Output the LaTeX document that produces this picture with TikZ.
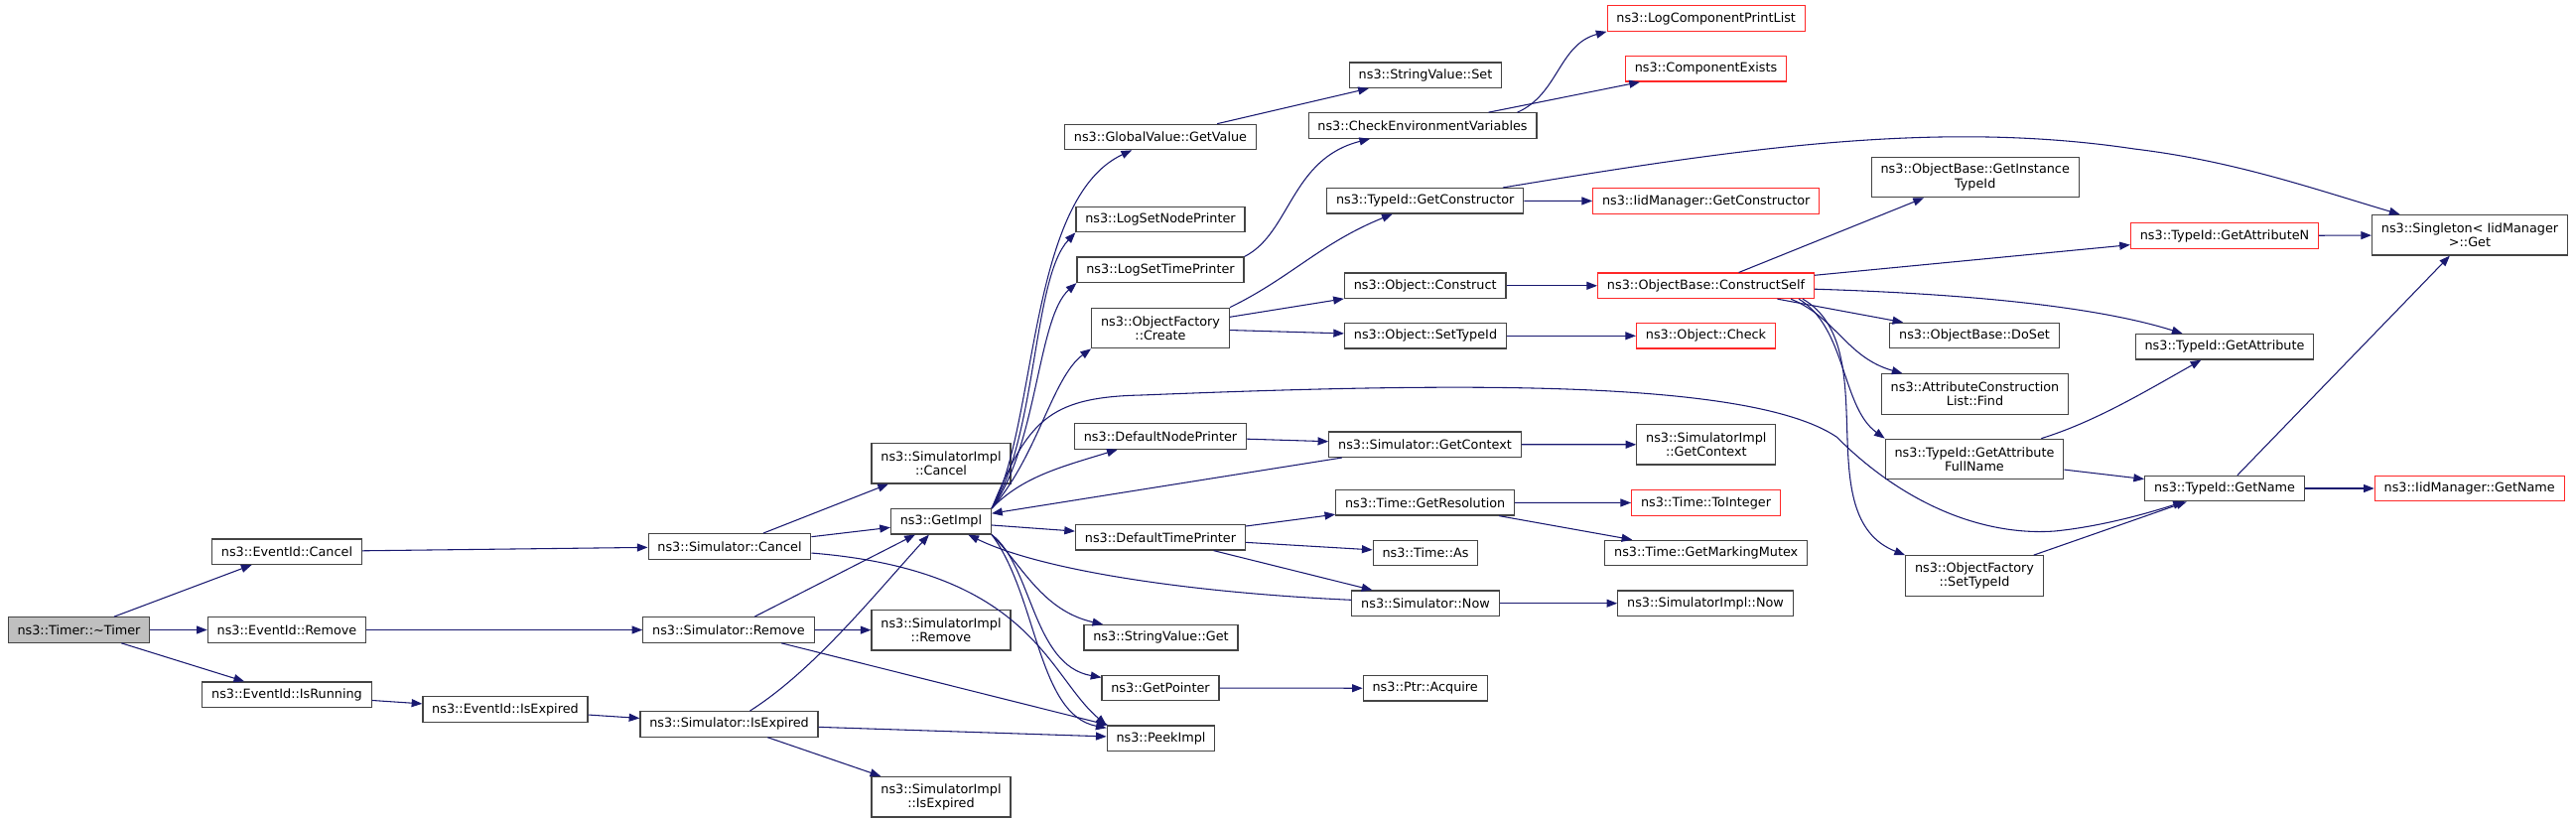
\documentclass[tikz,border=0pt]{standalone}
\usepackage{fontspec}
\setmainfont{DejaVu Sans}
\usetikzlibrary{arrows.meta}
\definecolor{edgeColor}{RGB}{25,25,112}
\definecolor{boxColor}{RGB}{68,68,68}
\definecolor{redColor}{RGB}{255,40,40}
\definecolor{rootColor}{RGB}{191,191,191}

\begin{document}
\begin{tikzpicture}[x=0.75pt, y=-0.75pt, >={Triangle[length=8pt,width=6pt]},
    fn/.style={draw=boxColor, fill=white, line width=0.9pt, minimum height=19.1pt, inner xsep=7pt, inner ysep=1pt, font=\fontsize{9.6}{10.7}\selectfont},
    fntwo/.style={fn, minimum height=30.4pt, align=center},
    fnred/.style={fn, draw=redColor},
    call/.style={->, edgeColor, line width=0.8pt}]
    \useasboundingbox (0,0) rectangle (2595,828);

    % caller side
    \node[fn, fill=rootColor] (timer) at (79.5,634.5) {ns3::Timer::\textasciitilde Timer};
    \node[fn] (evcancel) at (289,555.7) {ns3::EventId::Cancel};
    \node[fn] (evremove) at (289,634.5) {ns3::EventId::Remove};
    \node[fn] (evrunning) at (289,699.7) {ns3::EventId::IsRunning};
    \node[fn] (evexpired) at (509,714.5) {ns3::EventId::IsExpired};
    \node[fn] (simcancel) at (735,550.4) {ns3::Simulator::Cancel};
    \node[fn] (simremove) at (734,634.5) {ns3::Simulator::Remove};
    \node[fn] (simexpired) at (734.5,729.4) {ns3::Simulator::IsExpired};
    \node[fn] (getimpl) at (948,525.3) {ns3::GetImpl};
    \node[fntwo] (implcancel) at (948,466.7) {ns3::SimulatorImpl\\::Cancel};
    \node[fntwo] (implremove) at (948,634.7) {ns3::SimulatorImpl\\::Remove};
    \node[fntwo] (implexpired) at (948,802.7) {ns3::SimulatorImpl\\::IsExpired};

    % called from GetImpl
    \node[fn] (globalget) at (1169,138) {ns3::GlobalValue::GetValue};
    \node[fn] (lognode) at (1169,221) {ns3::LogSetNodePrinter};
    \node[fn] (logtime) at (1169,271.8) {ns3::LogSetTimePrinter};
    \node[fntwo] (factcreate) at (1169,330.5) {ns3::ObjectFactory\\::Create};
    \node[fn] (nodeprinter) at (1169,439.5) {ns3::DefaultNodePrinter};
    \node[fn] (timeprinter) at (1169,541.3) {ns3::DefaultTimePrinter};
    \node[fn] (strget) at (1169.5,642.3) {ns3::StringValue::Get};
    \node[fn] (getptr) at (1169,693) {ns3::GetPointer};
    \node[fn] (peekimpl) at (1169.5,743.7) {ns3::PeekImpl};

    \node[fn] (strset) at (1436,75.7) {ns3::StringValue::Set};
    \node[fn] (checkenv) at (1433,126.5) {ns3::CheckEnvironmentVariables};
    \node[fn] (getctor) at (1435.7,202.3) {ns3::TypeId::GetConstructor};
    \node[fn] (construct) at (1435.7,287.8) {ns3::Object::Construct};
    \node[fn] (settypeid) at (1436,338.3) {ns3::Object::SetTypeId};
    \node[fn] (getcontext) at (1435.5,447.7) {ns3::Simulator::GetContext};
    \node[fn] (getres) at (1435.7,506.3) {ns3::Time::GetResolution};
    \node[fn] (timeas) at (1436,557) {ns3::Time::As};
    \node[fn] (simnow) at (1436,607.7) {ns3::Simulator::Now};
    \node[fn] (acquire) at (1435.7,693.3) {ns3::Ptr::Acquire};

    \node[fnred] (printlist) at (1718.7,18.5) {ns3::LogComponentPrintList};
    \node[fnred] (compexists) at (1718.5,69.3) {ns3::ComponentExists};
    \node[fnred] (iidctor) at (1718.7,202.5) {ns3::IidManager::GetConstructor};
    \node[fnred] (constructself) at (1718.5,287.8) {ns3::ObjectBase::ConstructSelf};
    \node[fnred] (objcheck) at (1718.5,338.3) {ns3::Object::Check};
    \node[fntwo] (implcontext) at (1718.8,447.8) {ns3::SimulatorImpl\\::GetContext};
    \node[fnred] (tointeger) at (1718.5,506.5) {ns3::Time::ToInteger};
    \node[fn] (markmutex) at (1718.7,557) {ns3::Time::GetMarkingMutex};
    \node[fn] (implnow) at (1718,607.7) {ns3::SimulatorImpl::Now};

    \node[fntwo] (instancetid) at (1989.7,178.5) {ns3::ObjectBase::GetInstance\\TypeId};
    \node[fn] (doset) at (1989,338) {ns3::ObjectBase::DoSet};
    \node[fntwo] (attrfind) at (1989.5,397) {ns3::AttributeConstruction\\List::Find};
    \node[fntwo] (attrfull) at (1989,462.5) {ns3::TypeId::GetAttribute\\FullName};
    \node[fntwo] (factsettid) at (1989,580) {ns3::ObjectFactory\\::SetTypeId};
    \node[fnred] (getattrn) at (2241,237.5) {ns3::TypeId::GetAttributeN};
    \node[fn] (getattr) at (2241,349.3) {ns3::TypeId::GetAttribute};
    \node[fn] (getname) at (2241,492) {ns3::TypeId::GetName};
    \node[fntwo] (singleton) at (2488,236.8) {ns3::Singleton< IidManager\\>::Get};
    \node[fnred] (iidname) at (2487.7,492) {ns3::IidManager::GetName};

    % straight calls
    \draw[call] (timer) -- (evcancel);
    \draw[call] (timer) -- (evremove);
    \draw[call] (timer) -- (evrunning);
    \draw[call] (evcancel) -- (simcancel);
    \draw[call] (evremove) -- (simremove);
    \draw[call] (evrunning) -- (evexpired);
    \draw[call] (evexpired) -- (simexpired);
    \draw[call] (simcancel) -- (getimpl);
    \draw[call] (simcancel) -- (implcancel);
    \draw[call] (simremove) -- (getimpl);
    \draw[call] (simremove) -- (implremove);
    \draw[call] (simremove) -- (peekimpl);
    \draw[call] (simexpired) -- (peekimpl);
    \draw[call] (simexpired) -- (implexpired);
    \draw[call] (getcontext) -- (getimpl);
    \draw[call] (getimpl) -- (timeprinter);
    \draw[call] (nodeprinter) -- (getcontext);
    \draw[call] (timeprinter) -- (getres);
    \draw[call] (timeprinter) -- (timeas);
    \draw[call] (timeprinter) -- (simnow);
    \draw[call] (getres) -- (tointeger);
    \draw[call] (getres) -- (markmutex);
    \draw[call] (simnow) -- (implnow);
    \draw[call] (getptr) -- (acquire);
    \draw[call] (getcontext) -- (implcontext);
    \draw[call] (globalget) -- (strset);
    \draw[call] (checkenv) -- (compexists);
    \draw[call] (factcreate) -- (construct);
    \draw[call] (factcreate) -- (settypeid);
    \draw[call] (getctor) -- (iidctor);
    \draw[call] (construct) -- (constructself);
    \draw[call] (settypeid) -- (objcheck);
    \draw[call] (constructself) -- (instancetid);
    \draw[call] (constructself) -- (getattrn);
    \draw[call] (constructself) -- (doset);
    \draw[call] (getattrn) -- (singleton);
    \draw[call] (attrfull) -- (getname);
    \draw[call] (factsettid) -- (getname);
    \draw[call] (getname) -- (singleton);
    \draw[call] (getname) -- (iidname);

    % curved calls
    \draw[call] (simexpired) .. controls (820,675) and (880,600) .. (getimpl);
    \draw[call] (simcancel) .. controls (1040,575) and (1055,680) .. (peekimpl.north west);
    \draw[call] (getimpl.north east) .. controls (1045,430) and (1035,200) .. (globalget);
    \draw[call] (getimpl.north east) .. controls (1045,440) and (1040,280) .. (lognode.south west);
    \draw[call] (getimpl.north east) .. controls (1045,450) and (1045,320) .. (logtime.south west);
    \draw[call] (getimpl.north east) .. controls (1045,460) and (1060,380) .. (factcreate.south west);
    \draw[call] (getimpl.north east) .. controls (1030,480) and (1070,470) .. (nodeprinter);
    \draw[call] (getimpl.north east) .. controls (1035,425) and (1055,400) .. (1150,398)
        .. controls (1450,386) and (1760,380) .. (1850,440)
        .. controls (1920,510) and (2000,540) .. (2070,535)
        .. controls (2120,530) and (2170,515) .. (getname);
    \draw[call] (simnow) .. controls (1200,597) and (1050,575) .. (getimpl);
    \draw[call] (getimpl.south east) .. controls (1030,570) and (1050,615) .. (strget);
    \draw[call] (getimpl.south east) .. controls (1040,570) and (1040,670) .. (getptr);
    \draw[call] (getimpl.south east) .. controls (1045,600) and (1045,720) .. (peekimpl);
    \draw[call] (logtime.north east) .. controls (1300,235) and (1300,160) .. (checkenv);
    \draw[call] ([xshift=-15pt]checkenv.north east) .. controls (1570,95) and (1570,45) .. (printlist.south west);
    \draw[call] (factcreate.north east) .. controls (1300,280) and (1330,245) .. (getctor);
    \draw[call] ([xshift=-16pt]getctor.north east) .. controls (1750,150) and (1950,120) .. (2150,150)
        .. controls (2250,162) and (2330,190) .. (singleton);
    \draw[call] (constructself) .. controls (1950,295) and (2100,305) .. (getattr);
    \draw[call] ([xshift=-18pt]constructself.south east) .. controls (1850,320) and (1860,360) .. (attrfind);
    \draw[call] ([xshift=-12pt]constructself.south east) .. controls (1860,330) and (1855,410) .. (attrfull.north west);
    \draw[call] ([xshift=-9pt]constructself.south east) .. controls (1900,350) and (1820,520) .. (factsettid.north west);
    \draw[call] (attrfull) .. controls (2110,425) and (2160,395) .. (getattr);
\end{tikzpicture}
\end{document}
